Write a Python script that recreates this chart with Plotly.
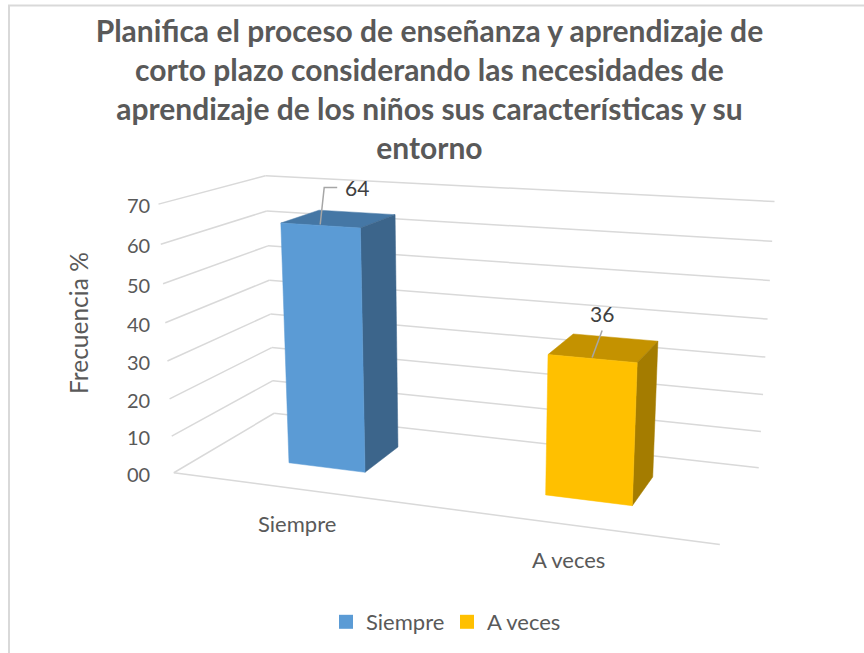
import numpy as np
import plotly.graph_objects as go

# ---- data ----
categories = ["Siempre", "A veces"]
values = [64, 36]
tick_values = [0, 10, 20, 30, 40, 50, 60, 70]
tick_labels = ["00", "10", "20", "30", "40", "50", "60", "70"]
axis_title = "Frecuencia %"
title_lines = [
    "Planifica el proceso de enseñanza y aprendizaje de",
    "corto plazo considerando las necesidades de",
    "aprendizaje de los niños sus características y su",
    "entorno",
]

# ---- styles ----
front_colors = ["#5B9BD5", "#FFC000"]
top_colors = ["#4577A5", "#C49200"]
side_colors = ["#3C658B", "#A47C00"]
GRID = "#D9D9D9"
TEXT = "#595959"
FONT = "Lato"

# ---- perspective camera of the 3-D plot (category, depth, value/70) -> pixels ----
CAMERA = np.array([
    [227.080113, 137.905307, -23.322793, 173.800549],
    [1.176161, -2.862331, -278.923536, 472.732445],
    [-0.063815, 0.137004, -0.050652, 1.0],
])
Z_MAX = 70
BAR_HALF = 0.155
DEPTH_FRONT, DEPTH_BACK = 0.31, 0.705


def proj(cat, depth, val):
    q = CAMERA @ np.array([cat, depth, val / Z_MAX, 1.0])
    return float(q[0] / q[2]), float(q[1] / q[2])


def poly(corners):
    pts = [proj(*c) for c in corners]
    pts.append(pts[0])
    return [p[0] for p in pts], [p[1] for p in pts]


fig = go.Figure()

# walls and floor grid
gx, gy = [], []
for v in tick_values:
    for a, b in [((0, 0, v), (0, 1, v)), ((0, 1, v), (2, 1, v))]:
        pa, pb = proj(*a), proj(*b)
        gx += [pa[0], pb[0], None]
        gy += [pa[1], pb[1], None]
pa, pb = proj(0, 0, 0), proj(2, 0, 0)
gx += [pa[0], pb[0], None]
gy += [pa[1], pb[1], None]
fig.add_trace(go.Scatter(x=gx, y=gy, mode="lines", line=dict(color=GRID, width=1.5),
                         hoverinfo="skip", showlegend=False))

# bars
for i, (cat, val) in enumerate(zip(categories, values)):
    c0, c1 = i + 0.5 - BAR_HALF, i + 0.5 + BAR_HALF
    d0, d1 = DEPTH_FRONT, DEPTH_BACK
    faces = [
        ([(c0, d0, val), (c1, d0, val), (c1, d1, val), (c0, d1, val)], top_colors[i]),
        ([(c1, d0, 0), (c1, d1, 0), (c1, d1, val), (c1, d0, val)], side_colors[i]),
        ([(c0, d0, 0), (c1, d0, 0), (c1, d0, val), (c0, d0, val)], front_colors[i]),
    ]
    for corners, color in faces:
        x, y = poly(corners)
        fig.add_trace(go.Scatter(x=x, y=y, mode="lines", fill="toself", fillcolor=color,
                                 line=dict(color=color, width=0.5), name=cat,
                                 hoverinfo="skip", showlegend=False))

# data-label leader lines and labels
label_elbows = [[(4, -38), (17, -38)], [(10, -28)]]
label_offsets = [(37, -38), (10, -45)]
for i, val in enumerate(values):
    ax, ay = proj(i + 0.5, DEPTH_FRONT, val)
    lx = [ax] + [ax + e[0] for e in label_elbows[i]]
    ly = [ay - 1] + [ay + e[1] for e in label_elbows[i]]
    fig.add_trace(go.Scatter(x=lx, y=ly, mode="lines", line=dict(color="#A6A6A6", width=1.5),
                             hoverinfo="skip", showlegend=False))
    fig.add_annotation(x=ax + label_offsets[i][0], y=ay + label_offsets[i][1], text=str(val),
                       showarrow=False, font=dict(family=FONT, size=21, color="#404040"),
                       xanchor="center", yanchor="middle")

# legend entries
for cat, color in zip(categories, front_colors):
    fig.add_trace(go.Scatter(x=[None], y=[None], mode="markers", name=cat,
                             marker=dict(symbol="square", size=14, color=color)))

# value-axis tick labels
for v, lab in zip(tick_values, tick_labels):
    _, py = proj(0, 0, v)
    fig.add_annotation(x=152, y=py + 1, text=lab, showarrow=False, xanchor="right", yanchor="middle",
                       font=dict(family=FONT, size=20, color=TEXT))

# category labels
for i, cat in enumerate(categories):
    px, py = proj(i + 0.5, 0, 0)
    fig.add_annotation(x=px, y=py + 35, text=cat, showarrow=False, xanchor="center", yanchor="middle",
                       font=dict(family=FONT, size=22, color=TEXT))

# value-axis title
fig.add_annotation(x=78, y=323, text=axis_title, textangle=-90, showarrow=False,
                   xanchor="center", yanchor="middle", font=dict(family=FONT, size=24.5, color=TEXT))

fig.update_layout(
    width=864, height=653, margin=dict(l=0, r=0, t=0, b=0),
    paper_bgcolor="white", plot_bgcolor="white",
    xaxis=dict(range=[0, 864], visible=False, fixedrange=True),
    yaxis=dict(range=[653, 0], visible=False, fixedrange=True),
    title=dict(text="<b>" + "<br>".join(title_lines) + "</b>", x=0.497, xanchor="center",
               y=0.935, yanchor="top", font=dict(family=FONT, size=30, color=TEXT)),
    legend=dict(orientation="h", x=326 / 864, xanchor="left", y=1 - 622 / 653, yanchor="middle",
                entrywidth=76, entrywidthmode="pixels",
                font=dict(family=FONT, size=22, color=TEXT), bgcolor="rgba(0,0,0,0)", itemclick=False),
    shapes=[
        dict(type="line", xref="x", yref="y", x0=9, x1=9, y0=5, y1=653, line=dict(color=GRID, width=2)),
        dict(type="line", xref="x", yref="y", x0=8, x1=864, y0=5.5, y1=5.5, line=dict(color=GRID, width=2)),
    ],
)
fig.write_html("out.html", config={"displayModeBar": False},
               post_script="document.body.style.margin='0';")
